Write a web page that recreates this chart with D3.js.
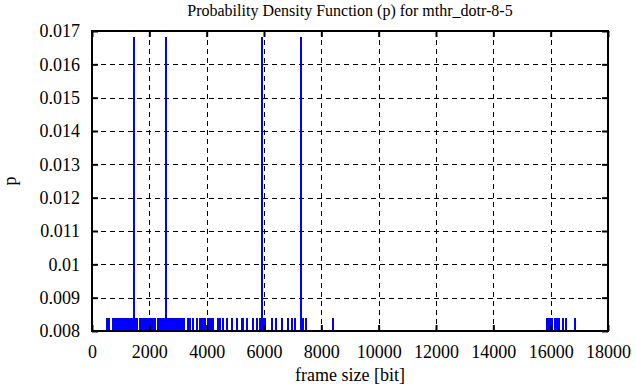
<!DOCTYPE html>
<html>
<head>
<meta charset="utf-8">
<script src="https://cdn.jsdelivr.net/npm/d3@7"></script>
<style>
  body { margin: 0; background: #fff; }
  svg text { font-family: "Liberation Serif", serif; fill: #000; }
</style>
</head>
<body>
<div id="chart"></div>
<script>
// frame sizes (bit) with a single occurrence, and the four common ones
var rareSizes = [523, 593, 733, 767, 837, 907, 977, 1047, 1116, 1186, 1256, 1291, 1326, 1360,
  1395, 1430, 1500, 1535, 1570, 1674, 1709, 1744, 1779, 1814, 1849, 1884, 1919, 1953, 1988,
  2023, 2058, 2093, 2128, 2163, 2198, 2302, 2337, 2372, 2407, 2442, 2477, 2512, 2547, 2616,
  2651, 2686, 2721, 2756, 2791, 2826, 2860, 2895, 2930, 2965, 3000, 3035, 3070, 3105, 3140,
  3209, 3349, 3419, 3523, 3663, 3767, 3802, 3837, 3872, 3907, 3942, 4047, 4081, 4151, 4221,
  4395, 4465, 4570, 4709, 4884, 5058, 5233, 5267, 5407, 5616, 5756, 5861, 5965, 6035, 6279,
  6419, 6628, 6837, 6977, 7081, 7361, 7465, 8407,
  15872, 15907, 15942, 15977, 16012, 16047, 16151, 16221, 16291, 16430, 16535, 16849]
var rareP = 0.00838
var commonSizes = [1465, 2581, 5930, 7291]
var commonP = 0.01682

var xTicks = [0, 2000, 4000, 6000, 8000, 10000, 12000, 14000, 16000, 18000]
var yTicks = [0.008, 0.009, 0.01, 0.011, 0.012, 0.013, 0.014, 0.015, 0.016, 0.017]

var width = 636, height = 387
var margin = {top: 31, right: 28, bottom: 56, left: 92}
var w = width - margin.left - margin.right
var h = height - margin.top - margin.bottom

var svg = d3.select('#chart').append('svg')
    .attr('width', width)
    .attr('height', height)

var g = svg.append('g').attr('transform', 'translate(' + margin.left + ',' + margin.top + ')')

var x = d3.scaleLinear().domain([0, 18000]).range([0, w])
var y = d3.scaleLinear().domain([0.008, 0.017]).range([h, 0])

// dashed grid
g.selectAll('.vgrid')
  .data(xTicks.slice(1, -1))
  .enter().append('line')
    .attr('x1', function(d) { return Math.round(x(d)) + 0.5 })
    .attr('x2', function(d) { return Math.round(x(d)) + 0.5 })
    .attr('y1', 0).attr('y2', h)
    .attr('stroke', '#000')
    .attr('stroke-dasharray', '5,4')

g.selectAll('.hgrid')
  .data(yTicks.slice(1, -1))
  .enter().append('line')
    .attr('y1', function(d) { return Math.round(y(d)) + 0.5 })
    .attr('y2', function(d) { return Math.round(y(d)) + 0.5 })
    .attr('x1', 0).attr('x2', w)
    .attr('stroke', '#000')
    .attr('stroke-dasharray', '5,4')

// impulses
var impulses = rareSizes.map(function(s) { return {size: s, p: rareP} })
  .concat(commonSizes.map(function(s) { return {size: s, p: commonP} }))

g.selectAll('.imp')
  .data(impulses)
  .enter().append('rect')
    .attr('x', function(d) { return Math.round(x(d.size)) - 1 })
    .attr('width', 2)
    .attr('y', function(d) { return y(d.p) })
    .attr('height', function(d) { return h - y(d.p) })
    .attr('fill', '#0000ff')
    .attr('shape-rendering', 'crispEdges')

// axes with inward ticks, mirrored
g.append('g')
    .attr('transform', 'translate(0,' + h + ')')
    .call(d3.axisBottom(x).tickValues(xTicks).tickSize(-6).tickPadding(14).tickFormat(d3.format('d')))
g.append('g')
    .call(d3.axisTop(x).tickValues(xTicks).tickSize(-6).tickFormat(''))
g.append('g')
    .call(d3.axisLeft(y).tickValues(yTicks).tickSize(-6).tickPadding(12).tickFormat(function(d) { return d3.format('')(+d.toFixed(3)) }))
g.append('g')
    .attr('transform', 'translate(' + w + ',0)')
    .call(d3.axisRight(y).tickValues(yTicks).tickSize(-6).tickFormat(''))

g.selectAll('.domain').remove()
g.selectAll('.tick line').attr('stroke', '#000').attr('stroke-width', 2)
g.selectAll('.tick text')
    .attr('font-family', 'Liberation Serif')
    .attr('font-size', 18)

// frame
g.append('rect')
    .attr('width', w).attr('height', h)
    .attr('fill', 'none')
    .attr('stroke', '#000')
    .attr('stroke-width', 2)

// labels
svg.append('text')
    .attr('x', margin.left + w / 2)
    .attr('y', 16)
    .attr('text-anchor', 'middle')
    .style('font-size', '16px')
    .text('Probability Density Function (p) for mthr_dotr-8-5')

svg.append('text')
    .attr('x', margin.left + w / 2)
    .attr('y', 381)
    .attr('text-anchor', 'middle')
    .style('font-size', '18px')
    .text('frame size [bit]')

svg.append('text')
    .attr('transform', 'translate(16,' + (margin.top + h / 2) + ') rotate(-90)')
    .attr('text-anchor', 'middle')
    .style('font-size', '18px')
    .text('p')
</script>
</body>
</html>
